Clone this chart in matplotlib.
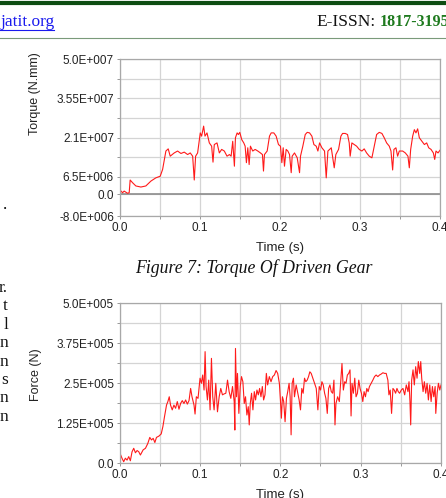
import matplotlib.pyplot as plt
import numpy as np

# torque of driven gear, time (s) and torque (x1E6 N.mm)
torque_t = [0.0, 0.0038, 0.0058, 0.0100, 0.0121, 0.0133, 0.0163, 0.0204, 0.0267, 0.0329,
            0.0392, 0.0454, 0.0508, 0.0538, 0.0579, 0.0608, 0.0633, 0.0683, 0.0725, 0.0767,
            0.0808, 0.0850, 0.0883, 0.0913, 0.0933, 0.0950, 0.0975, 0.1008, 0.1025, 0.1050,
            0.1067, 0.1092, 0.1121, 0.1150, 0.1167, 0.1183, 0.1217, 0.1246, 0.1275, 0.1308,
            0.1342, 0.1372, 0.1393, 0.1413, 0.1434, 0.1447, 0.1468, 0.1484, 0.1501, 0.1526,
            0.1551, 0.1568, 0.1584, 0.1601, 0.1618, 0.1634, 0.1663, 0.1693, 0.1726, 0.1759,
            0.1784, 0.1797, 0.1809, 0.1843, 0.1872, 0.1893, 0.1926, 0.1955, 0.1984, 0.2009,
            0.2026, 0.2043, 0.2059, 0.2080, 0.2101, 0.2122, 0.2143, 0.2155, 0.2184, 0.2218,
            0.2247, 0.2259, 0.2288, 0.2318, 0.2343, 0.2372, 0.2401, 0.2426, 0.2455, 0.2476,
            0.2497, 0.2526, 0.2559, 0.2580, 0.2601, 0.2643, 0.2680, 0.2700, 0.2734, 0.2763,
            0.2784, 0.2817, 0.2846, 0.2867, 0.2879, 0.2900, 0.2929, 0.2959, 0.2992, 0.3025,
            0.3054, 0.3084, 0.3117, 0.3150, 0.3179, 0.3209, 0.3242, 0.3275, 0.3304, 0.3334,
            0.3367, 0.3388, 0.3409, 0.3425, 0.3450, 0.3471, 0.3492, 0.3534, 0.3567, 0.3600,
            0.3617, 0.3634, 0.3659, 0.3680, 0.3700, 0.3721, 0.3742, 0.3775, 0.3805, 0.3834,
            0.3859, 0.3888, 0.3917, 0.3934, 0.3950, 0.3975, 0.4000]
torque_val = [1.8, 0.6, 1.2, 0.4, 0.6, 5.3, 4.3, 3.1, 2.7, 3.1,
              4.9, 6.1, 6.7, 9.2, 16.0, 16.8, 14.1, 15.3, 16.0, 15.1,
              15.6, 14.7, 15.3, 14.1, 5.3, 14.1, 15.3, 22.7, 21.5, 25.2,
              21.5, 22.7, 19.0, 17.8, 11.9, 18.4, 19.0, 15.3, 16.6, 16.0,
              14.1, 14.7, 14.1, 19.6, 10.4, 20.9, 22.7, 22.1, 22.9, 20.2,
              19.0, 17.8, 11.7, 17.2, 11.0, 17.8, 16.0, 16.6, 16.0, 15.3,
              14.7, 8.6, 14.7, 16.0, 21.5, 22.7, 22.7, 21.5, 18.4, 17.8,
              11.7, 17.2, 10.4, 16.6, 16.0, 14.7, 8.0, 14.1, 15.3, 13.5,
              8.0, 14.1, 17.8, 22.1, 22.9, 22.7, 21.5, 18.4, 17.8, 16.0,
              19.0, 17.2, 16.0, 6.1, 16.0, 17.2, 9.8, 14.7, 16.6, 21.5,
              22.5, 22.5, 22.1, 19.0, 14.1, 19.0, 18.4, 17.8, 16.6, 16.0,
              16.8, 15.3, 14.1, 13.5, 17.8, 22.1, 22.9, 22.5, 20.9, 19.0,
              17.8, 16.0, 9.0, 16.6, 17.2, 14.1, 16.0, 16.0, 15.3, 14.1,
              9.8, 16.6, 21.5, 23.9, 22.7, 24.2, 20.9, 19.6, 18.4, 19.0,
              17.2, 16.6, 15.3, 12.9, 16.0, 15.3, 16.3]

# force, time (s) and force (x1E3 N)
force_t = [0.0010, 0.0031, 0.0052, 0.0073, 0.0094, 0.0115, 0.0135, 0.0156, 0.0177, 0.0198,
           0.0219, 0.0240, 0.0260, 0.0294, 0.0323, 0.0352, 0.0377, 0.0398, 0.0419, 0.0440,
           0.0460, 0.0490, 0.0519, 0.0540, 0.0560, 0.0585, 0.0602, 0.0619, 0.0635, 0.0656,
           0.0677, 0.0698, 0.0719, 0.0740, 0.0760, 0.0781, 0.0802, 0.0823, 0.0844, 0.0865,
           0.0885, 0.0902, 0.0927, 0.0940, 0.0956, 0.0977, 0.1002, 0.1019, 0.1035, 0.1052,
           0.1065, 0.1077, 0.1094, 0.1110, 0.1127, 0.1144, 0.1160, 0.1177, 0.1198, 0.1219,
           0.1240, 0.1260, 0.1281, 0.1302, 0.1323, 0.1344,
           0.1364, 0.1385, 0.1406, 0.1427, 0.1435, 0.1443, 0.1456, 0.1468, 0.1485, 0.1502,
           0.1518, 0.1535, 0.1552, 0.1568, 0.1585, 0.1602, 0.1614, 0.1627, 0.1643, 0.1660,
           0.1677, 0.1693, 0.1710, 0.1727, 0.1743, 0.1760, 0.1777, 0.1793, 0.1810, 0.1827,
           0.1843, 0.1864, 0.1885, 0.1906, 0.1927, 0.1948, 0.1968, 0.1989, 0.2002, 0.2014,
           0.2027, 0.2043, 0.2060, 0.2077, 0.2093, 0.2110, 0.2123, 0.2135, 0.2148, 0.2164,
           0.2177, 0.2198, 0.2218, 0.2235, 0.2252, 0.2268, 0.2285, 0.2302, 0.2318, 0.2335,
           0.2352, 0.2368, 0.2385, 0.2406, 0.2427, 0.2448, 0.2468, 0.2485, 0.2502, 0.2518,
           0.2535, 0.2552, 0.2568, 0.2585, 0.2602, 0.2618, 0.2635,
           0.2652, 0.2668, 0.2681, 0.2693, 0.2714, 0.2735, 0.2756, 0.2768, 0.2785, 0.2802,
           0.2818, 0.2835, 0.2852, 0.2868, 0.2881, 0.2893, 0.2910, 0.2927, 0.2943, 0.2960,
           0.2977, 0.2993, 0.3010, 0.3027, 0.3043, 0.3060, 0.3077, 0.3093, 0.3110, 0.3131,
           0.3152, 0.3173, 0.3193, 0.3214, 0.3235, 0.3256, 0.3277, 0.3298, 0.3318, 0.3339,
           0.3352, 0.3368, 0.3385, 0.3402, 0.3418, 0.3435, 0.3452, 0.3468, 0.3485, 0.3506,
           0.3527, 0.3548, 0.3568, 0.3589, 0.3602, 0.3614, 0.3623, 0.3635, 0.3652, 0.3668,
           0.3685, 0.3702, 0.3718, 0.3735, 0.3748, 0.3760, 0.3777, 0.3793, 0.3810, 0.3827,
           0.3843, 0.3860, 0.3877, 0.3893, 0.3910, 0.3927, 0.3935, 0.3952, 0.3968, 0.3985,
           0.4000]
force_val = [28, 15, 4, 15, 9, 20, 7, 35, 46, 32,
             39, 35, 25, 41, 46, 61, 80, 72, 77, 64,
             80, 84, 91, 114, 145, 181, 192, 207, 181, 166,
             181, 171, 192, 168, 186, 195, 186, 197, 184, 195,
             233, 207, 181, 153, 207, 202, 265, 249, 275, 228,
             348, 239, 197, 259, 166, 327, 207, 166, 249, 160,
             207, 233, 213, 216, 218, 259,
             223, 202, 239, 192, 103, 358, 207, 280, 155, 239,
             270, 254, 186, 207, 150, 176, 119, 186, 218, 166,
             223, 197, 228, 213, 233, 207, 239, 197, 213, 280,
             244, 270, 254, 270, 275, 289, 280, 249, 197, 140,
             207, 192, 129, 202, 223, 249, 207, 88, 249, 265,
             207, 244, 218, 197, 166, 233, 218, 265, 254, 259,
             270, 285, 280, 265, 249, 233, 166, 239, 228, 254,
             244, 218, 202, 155, 233, 244, 223,
             218, 259, 119, 186, 207, 192, 270, 311, 228, 254,
             249, 275, 280, 291, 147, 249, 218, 265, 207, 218,
             259, 233, 218, 192, 223, 207, 233, 223, 239, 249,
             259, 270, 275, 270, 275, 278, 282, 280, 280, 259,
             213, 228, 155, 233, 228, 218, 233, 223, 218, 228,
             233, 213, 244, 223, 254, 192, 119, 259, 291, 244,
             301, 265, 317, 280, 317, 265, 223, 254, 218, 249,
             197, 244, 192, 239, 207, 239, 155, 218, 249, 228,
             244]

x_ticks = [0.0, 0.1, 0.2, 0.3, 0.4]
x_labels = ["0.0", "0.1", "0.2", "0.3", "0.4"]
x_minor = [0.05, 0.15, 0.25, 0.35]

torque_ticks = [-8.0e6, 0.0, 6.5e6, 2.1e7, 3.55e7, 5.0e7]
torque_labels = ["-8.0E+006", "0.0", "6.5E+006", "2.1E+007", "3.55E+007", "5.0E+007"]
torque_minor = [1.375e7, 2.825e7, 4.275e7]

force_ticks = [0.0, 1.25e5, 2.5e5, 3.75e5, 5.0e5]
force_labels = ["0.0", "1.25E+005", "2.5E+005", "3.75E+005", "5.0E+005"]
force_minor = [6.25e4, 1.875e5, 3.125e5, 4.375e5]

side_text = ["r.", "t", "l", "n", "n", "s", "n", "n"]

SANS = "Liberation Sans"
SERIF = "Liberation Serif"
GRID = "#d4d4d4"


def setup_axes(ax, ylim, yticks, ylabels, yminor, ylabel):
    ax.set_xlim(0, 0.4)
    ax.set_ylim(*ylim)
    ax.set_xticks(x_ticks)
    ax.set_xticklabels(x_labels, fontfamily=SANS, fontsize=8.5, color="#222222")
    ax.set_xticks(x_minor, minor=True)
    ax.set_yticks(yticks)
    ax.set_yticklabels(ylabels, fontfamily=SANS, fontsize=8.5, color="#222222")
    ax.set_yticks(yminor, minor=True)
    ax.grid(True, which="both", color=GRID, linewidth=0.9)
    ax.set_axisbelow(True)
    ax.tick_params(which="both", length=2.5, width=0.7, color="#999999", pad=1.5)
    for s in ax.spines.values():
        s.set_color("#a8a8a8")
        s.set_linewidth(0.9)
    ax.set_xlabel("Time (s)", fontfamily=SANS, fontsize=9.5, color="#222222", labelpad=6)
    ax.set_ylabel(ylabel, fontfamily=SANS, fontsize=9, color="#222222")


fig = plt.figure(figsize=(4.46, 4.98), dpi=100)
W, H = 446.0, 498.0

# header of the page
fig.add_artist(plt.Line2D([0, 1], [1 - 3 / H, 1 - 3 / H], color="#0d4d12", linewidth=3))
fig.add_artist(plt.Line2D([0, 1], [1 - 38 / H, 1 - 38 / H], color="#7a9a7a", linewidth=0.8))
fig.text(0 / W, 1 - 22 / H, "jatit.org", fontfamily=SERIF, fontsize=12.5, color="#1a1aee",
         va="center", ha="left")
fig.add_artist(plt.Line2D([0, 54 / W], [1 - 30 / H, 1 - 30 / H], color="#1a1aee", linewidth=0.8))
fig.text(316 / W, 1 - 22 / H, "E-ISSN:", fontfamily=SERIF, fontsize=12.5, color="#111111",
         va="center", ha="left")
fig.text(380 / W, 1 - 22 / H, "1817-3195", fontfamily=SERIF, fontsize=11.5, color="#1e7a1e",
         fontweight="bold", va="center", ha="left")

# left column text cut off by the crop
fig.text(7 / W, 1 - 205 / H, ".", fontfamily=SERIF, fontsize=12.5, ha="right", va="center")
for i, s in enumerate(side_text):
    fig.text(8 / W, 1 - (288 + 18.4 * i) / H, s, fontfamily=SERIF, fontsize=12.5,
             ha="right", va="center", color="#111111")

# torque chart
ax1 = fig.add_axes([119.5 / W, 1 - 216 / H, 320.5 / W, 157 / H])
ax1.plot(torque_t, np.array(torque_val) * 1e6, color="#ff1a1a", linewidth=0.8)
setup_axes(ax1, (-8.0e6, 5.0e7), torque_ticks, torque_labels, torque_minor, "Torque (N.mm)")
ax1.axhline(0, color="#8c8c8c", linewidth=1.2, zorder=1)
ax1.yaxis.set_label_coords(-0.245, 0.78)

fig.text(254 / W, 1 - 268 / H, "Figure 7: Torque Of Driven Gear", fontfamily=SERIF,
         fontstyle="italic", fontsize=12.8, ha="center", va="center", color="#111111")

# force chart
ax2 = fig.add_axes([119.5 / W, 1 - 463 / H, 321.5 / W, 160 / H])
ax2.plot(force_t, np.array(force_val) * 1e3, color="#ff1a1a", linewidth=0.8)
setup_axes(ax2, (0.0, 5.0e5), force_ticks, force_labels, force_minor, "Force (N)")
ax2.yaxis.set_label_coords(-0.24, 0.55)

fig.savefig("out.png", dpi=100)
